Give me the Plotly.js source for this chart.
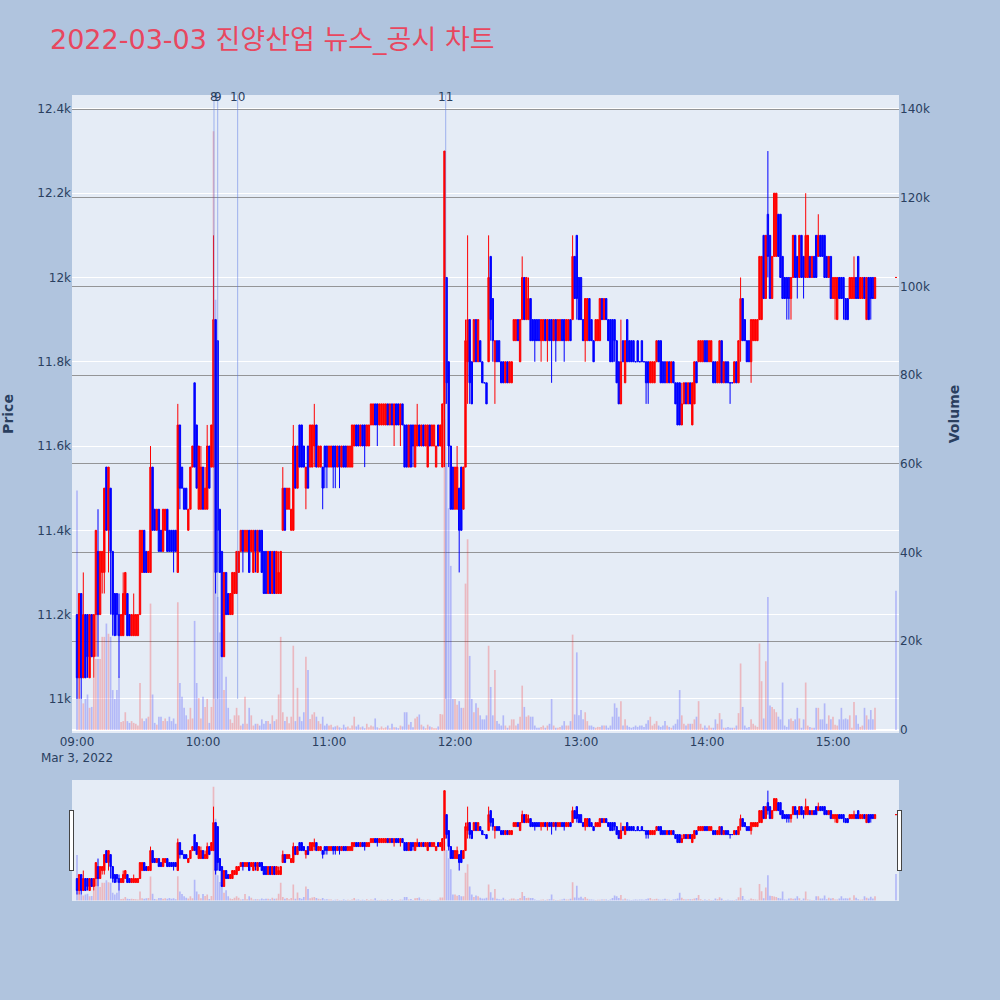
<!DOCTYPE html>
<html><head><meta charset="utf-8">
<script src="https://cdn.plot.ly/plotly-3.0.1.min.js"></script>
<style>html,body{margin:0;padding:0;background:#b0c4de}</style>
</head><body><div id="chart" style="width:1000px;height:1000px"></div>
<script>
// one-minute bars 09:00 .. 15:20, then the 15:30 closing auction bar
const openP = [
11200,11050,11250,11050,11200,11200,11050,11200,11100,11200,
11350,11200,11300,11300,11550,11400,11500,11350,11250,11250,
11200,11150,11150,11200,11250,11200,11150,11150,11150,11150,
11200,11300,11400,11350,11300,11300,11550,11450,11400,11450,
11400,11350,11400,11450,11400,11400,11400,11400,11300,11650,
11550,11500,11500,11400,11450,11550,11750,11650,11450,11450,
11550,11450,11450,11600,11550,11550,11900,11850,11450,11350,
11100,11300,11250,11200,11200,11250,11250,11300,11350,11400,
11350,11350,11400,11350,11300,11400,11300,11400,11400,11350,
11350,11250,11350,11250,11350,11250,11250,11250,11400,11500,
11450,11450,11400,11400,11600,11500,11650,11650,11600,11500,
11600,11550,11550,11600,11650,11550,11550,11550,11600,11600,
11550,11550,11600,11600,11550,11600,11550,11600,11600,11550,
11550,11550,11600,11650,11650,11600,11650,11650,11600,11600,
11650,11650,11700,11700,11650,11650,11650,11650,11700,11650,
11700,11650,11700,11700,11650,11700,11650,11650,11550,11650,
11650,11550,11600,11650,11600,11650,11600,11550,11650,11600,
11600,11550,11650,11600,11550,11700,12000,11800,11600,11550,
11450,11450,11500,11550,11450,11550,11800,11900,11800,11800,
11900,11800,11850,11800,11750,11750,11800,12050,11950,11800,
11850,11850,11800,11800,11750,11800,11750,11750,11850,11850,
11900,11800,11900,12000,11900,11900,11950,11900,11900,11900,
11900,11850,11850,11900,11850,11900,11900,11850,11900,11850,
11850,11900,11900,11850,11850,11900,11900,12050,12100,12000,
12000,11900,11850,11850,11950,11900,11850,11850,11850,11850,
11950,11900,11950,11900,11900,11900,11900,11850,11800,11700,
11850,11750,11900,11850,11850,11850,11800,11850,11800,11850,
11800,11800,11800,11750,11750,11750,11800,11850,11850,11800,
11800,11750,11800,11750,11800,11750,11750,11750,11650,11700,
11750,11700,11750,11650,11700,11800,11800,11800,11800,11850,
11850,11800,11800,11800,11800,11750,11750,11850,11750,11800,
11800,11750,11750,11750,11800,11750,11850,11950,11900,11850,
11850,11800,11850,11850,11850,11900,11900,12100,11950,12150,
12100,11950,12050,12050,12150,12150,12050,12000,12000,12000,
11950,12000,12100,12050,12000,12100,12050,12000,12000,12050,
12000,12050,12100,12050,12100,12100,12100,12050,12000,12050,
11950,11950,11900,12000,12000,12000,11950,11950,11950,11950,
11950,12000,12050,11950,11950,12000,11900,12000,12000,12000,
11950,
12000];
const highP = [
11200,11250,11250,11300,11200,11200,11200,11200,11200,11400,
11450,11350,11350,11500,11550,11550,11500,11350,11250,11250,
11250,11200,11300,11300,11250,11200,11200,11250,11200,11200,
11400,11400,11400,11350,11350,11600,11550,11450,11450,11450,
11400,11450,11450,11450,11400,11400,11400,11400,11700,11650,
11550,11500,11500,11450,11550,11600,11750,11650,11600,11600,
11550,11550,11650,11600,11650,12100,11900,11850,11450,11350,
11300,11300,11250,11250,11300,11300,11350,11350,11400,11400,
11400,11400,11400,11400,11400,11400,11400,11400,11400,11350,
11350,11350,11350,11350,11350,11350,11350,11350,11550,11500,
11500,11500,11450,11650,11600,11600,11650,11650,11600,11550,
11600,11650,11650,11700,11650,11600,11600,11550,11600,11600,
11600,11600,11600,11600,11600,11600,11600,11600,11600,11600,
11600,11650,11650,11650,11650,11650,11650,11650,11650,11650,
11700,11700,11700,11700,11700,11700,11700,11700,11700,11700,
11700,11700,11700,11700,11700,11700,11650,11650,11650,11650,
11650,11650,11700,11650,11650,11650,11650,11650,11650,11650,
11650,11600,11650,11650,11700,12300,12000,11800,11600,11550,
11550,11600,11500,11550,11550,11900,12100,11900,11800,11900,
11900,11900,11850,11800,11750,11750,12100,12050,11950,11850,
11850,11850,11800,11800,11800,11800,11800,11800,11900,11900,
11900,11900,12050,12000,12000,12000,11950,11900,11900,11900,
11900,11900,11900,11900,11900,11900,11900,11900,11900,11900,
11900,11900,11900,11900,11900,11900,12100,12050,12100,12000,
12000,11900,11950,11950,11950,11900,11850,11900,11900,11950,
11950,11950,11950,11900,11900,11900,11900,11850,11800,11900,
11850,11850,11900,11850,11850,11850,11800,11850,11800,11850,
11800,11800,11800,11800,11800,11800,11850,11850,11850,11800,
11800,11800,11800,11800,11800,11750,11750,11750,11750,11750,
11750,11750,11750,11750,11800,11800,11850,11850,11850,11850,
11850,11850,11850,11800,11800,11800,11850,11850,11800,11800,
11800,11750,11750,11800,11800,11850,12000,11950,11900,11850,
11850,11900,11900,11900,11900,12050,12050,12100,12100,12300,
12100,12050,12200,12200,12150,12150,12050,12000,12000,12000,
12000,12100,12100,12050,12100,12100,12050,12200,12100,12050,
12050,12050,12100,12150,12100,12100,12100,12050,12050,12050,
12000,12000,12000,12000,12000,12000,11950,11950,12000,12000,
12050,12000,12050,12000,12000,12000,12000,12000,12000,12000,
12000,
12000];
const lowP = [
11000,11000,11000,11050,11050,11050,11050,11100,11050,11100,
11100,11200,11250,11250,11400,11300,11200,11150,11150,11150,
11050,11150,11150,11200,11150,11150,11150,11150,11150,11150,
11200,11300,11300,11300,11300,11300,11400,11400,11400,11350,
11350,11350,11400,11350,11350,11350,11300,11350,11300,11450,
11500,11450,11450,11400,11450,11550,11550,11500,11450,11450,
11450,11450,11450,11500,11550,11550,11250,11300,11300,11100,
11100,11200,11200,11200,11200,11250,11250,11300,11350,11300,
11350,11350,11300,11350,11300,11300,11300,11350,11300,11250,
11250,11250,11250,11250,11250,11250,11250,11250,11400,11400,
11450,11450,11400,11400,11500,11500,11550,11550,11550,11450,
11500,11550,11550,11550,11550,11550,11550,11450,11500,11500,
11550,11550,11500,11500,11550,11500,11550,11550,11550,11550,
11550,11550,11600,11600,11600,11600,11600,11550,11600,11600,
11650,11650,11650,11600,11650,11650,11650,11650,11650,11650,
11650,11600,11650,11650,11600,11650,11550,11550,11550,11550,
11550,11550,11600,11600,11600,11600,11600,11550,11600,11600,
11600,11550,11600,11600,11550,11550,11700,11550,11450,11450,
11450,11450,11300,11400,11450,11550,11700,11700,11700,11800,
11800,11800,11800,11750,11750,11700,11800,11850,11800,11700,
11800,11800,11750,11750,11750,11750,11750,11750,11850,11850,
11850,11800,11900,11900,11900,11900,11850,11850,11800,11850,
11850,11800,11850,11850,11800,11850,11750,11850,11800,11850,
11850,11850,11800,11850,11850,11850,11900,11950,11900,11900,
11900,11850,11800,11850,11850,11850,11800,11850,11850,11850,
11900,11900,11900,11850,11800,11800,11800,11750,11700,11700,
11800,11750,11800,11800,11800,11800,11800,11800,11800,11800,
11800,11700,11700,11750,11750,11750,11800,11800,11750,11750,
11750,11750,11750,11750,11750,11700,11650,11650,11650,11700,
11700,11700,11700,11650,11700,11750,11800,11800,11800,11800,
11800,11800,11800,11750,11750,11750,11750,11750,11750,11750,
11750,11700,11750,11750,11750,11750,11800,11850,11850,11800,
11800,11750,11850,11850,11850,11900,11900,11950,11950,12000,
11950,11950,12050,12050,12050,12000,11950,11950,11900,11900,
11900,12000,12000,11950,12000,12000,11950,12000,12000,12000,
12000,12000,12000,12050,12050,12050,12000,12000,12000,11950,
11950,11900,11900,11950,11950,11900,11900,11900,11950,11950,
11950,11950,11950,11950,11950,11950,11900,11900,11900,11950,
11950,
12000];
const closeP = [
11050,11250,11050,11200,11050,11100,11200,11100,11200,11400,
11200,11350,11350,11500,11400,11550,11350,11200,11150,11200,
11150,11200,11250,11300,11150,11150,11200,11200,11200,11200,
11400,11400,11300,11300,11350,11550,11400,11400,11450,11350,
11350,11450,11450,11350,11350,11350,11350,11350,11650,11500,
11500,11450,11450,11450,11550,11600,11550,11500,11600,11550,
11450,11500,11600,11500,11650,11900,11300,11400,11300,11100,
11300,11200,11200,11250,11300,11300,11350,11350,11400,11350,
11400,11400,11300,11400,11400,11350,11400,11350,11300,11250,
11250,11350,11250,11350,11250,11350,11300,11350,11500,11400,
11500,11500,11450,11600,11500,11600,11550,11550,11550,11550,
11500,11650,11650,11650,11550,11600,11600,11500,11550,11550,
11600,11600,11550,11550,11600,11550,11600,11550,11550,11600,
11600,11650,11650,11600,11600,11650,11600,11600,11650,11650,
11700,11700,11650,11650,11700,11700,11700,11700,11650,11700,
11650,11700,11650,11650,11700,11650,11550,11550,11650,11550,
11600,11650,11650,11600,11650,11600,11650,11650,11600,11650,
11650,11600,11600,11650,11700,12300,11750,11600,11450,11450,
11550,11550,11400,11400,11550,11850,11900,11750,11700,11900,
11800,11900,11800,11750,11750,11700,12000,11900,11850,11850,
11800,11800,11750,11750,11800,11750,11800,11800,11900,11900,
11850,11900,12000,11900,12000,11950,11850,11850,11850,11850,
11850,11900,11900,11850,11900,11850,11850,11900,11850,11900,
11900,11850,11850,11900,11900,11850,12050,11950,11950,11900,
11900,11850,11950,11950,11850,11850,11800,11900,11900,11950,
11900,11950,11900,11850,11800,11800,11850,11750,11700,11800,
11800,11850,11800,11800,11800,11800,11800,11800,11800,11800,
11800,11750,11750,11800,11800,11800,11850,11800,11750,11750,
11750,11800,11750,11800,11750,11700,11650,11650,11700,11750,
11700,11750,11700,11750,11800,11750,11850,11850,11850,11800,
11800,11850,11850,11750,11750,11800,11850,11750,11800,11750,
11750,11750,11750,11800,11750,11850,11950,11850,11850,11800,
11800,11900,11900,11900,11900,12050,12050,11950,12100,12050,
11950,12050,12200,12200,12050,12000,11950,11950,11950,11950,
12000,12100,12000,12000,12100,12000,12000,12100,12100,12000,
12050,12000,12000,12100,12050,12050,12000,12000,12050,11950,
12000,12000,12000,11950,11950,11950,11900,11900,12000,12000,
12000,11950,11950,12000,12000,11950,12000,11900,11950,11950,
12000,
12000];
const volume = [
54000,7000,7000,6000,7000,8000,5000,5200,11700,16000,
16000,16000,21000,21000,24000,21700,21000,9000,7000,9000,
12000,1800,2000,4000,2000,1600,2000,1600,1400,1000,
10600,2600,2000,2600,3000,28500,8000,1600,1200,3000,
3000,2000,2600,2000,3000,2000,2600,1400,28800,10600,
7500,5000,3300,2400,5000,2600,24600,10600,7200,2600,
7500,5200,7000,1600,5200,135000,97000,30000,22000,18000,
9000,12000,5000,2400,1600,3300,5000,3300,1000,1400,
7500,1400,5000,3300,1000,1400,1400,1000,2400,1400,
2000,2000,1400,3300,2000,2400,8000,21000,4000,2000,
3000,1500,3000,19000,2000,9500,3000,2000,4000,16500,
13500,2500,3500,4000,3000,2000,1400,3000,1000,1400,
1000,1200,600,800,1000,600,400,1200,600,800,
400,1000,3000,800,1200,600,800,400,1400,600,
1000,800,2600,600,400,800,400,600,1000,400,
1400,600,600,400,1000,800,4000,4000,1200,1800,
600,2600,3000,3500,1200,800,400,1200,800,600,
400,400,800,3600,3500,70000,60000,50000,37000,7000,
7000,5700,6500,5000,5000,33000,43000,16700,7000,4000,
6000,5000,3300,2400,2400,3300,19000,9700,3300,13500,
2000,1400,1000,3300,1000,500,1000,2400,2400,1000,
1400,3000,10000,5200,3000,3300,3000,3000,1000,500,
500,700,1000,500,1000,1400,7000,1000,500,500,
700,1000,2000,1000,1000,2000,21500,3500,17500,3300,
4500,2400,4000,2000,1000,1000,700,500,700,700,
1000,1000,1000,500,1000,3000,6000,5000,3000,6500,
1000,2400,1000,700,500,700,1000,700,1000,1000,
700,1400,2200,3000,1000,1400,2000,1000,700,1000,
2000,1000,700,500,1000,1400,2400,9000,3300,1400,
1000,1400,1400,1400,2400,3000,6500,1400,500,1000,
500,1000,500,500,2400,1400,3800,2400,500,500,
700,500,500,500,1000,3800,15000,5200,1000,500,
700,2400,1400,1000,700,19500,11000,2600,15500,30000,
5500,5200,4700,4000,3000,2400,10700,1000,700,2400,
2600,2000,2400,5000,2600,500,2400,10700,1000,700,
500,500,5000,5000,2400,2400,6000,1400,3300,2400,
3000,1200,1000,2400,5000,2400,2600,2400,3300,500,
6300,3300,1400,700,1000,5000,3300,2400,4500,2400,
5000,
31400];
const sessionDate = '2022-03-03';
const sessionStartMinute = 9 * 60;          // 09:00
const closingAuctionTime = '2022-03-03 15:30';
const newsTimes  = ['2022-03-03 10:05:14', '2022-03-03 10:07:00', '2022-03-03 10:16:30', '2022-03-03 11:55:34'];
const newsLabels = ['8', '9', '10', '11'];
const newsLineBase = 11000;
const chartTitle = '2022-03-03 진양산업 뉴스_공시 차트';

// time stamps of the bars
const times = [];
for (let i = 0; i < openP.length - 1; i++) {
  const t = sessionStartMinute + i;
  times.push(sessionDate + ' ' + String(Math.floor(t / 60)).padStart(2, '0') + ':' + String(t % 60).padStart(2, '0'));
}
times.push(closingAuctionTime);

const volColors = closeP.map((c, i) => c > openP[i] ? 'rgba(255,0,0,0.22)' : 'rgba(0,0,255,0.22)');

const xRange = ['2022-03-03 08:57:37', '2022-03-03 15:31:26'];
const priceRange = [10919, 12433];

const traces = [
  {
    type: 'candlestick', x: times, open: openP, high: highP, low: lowP, close: closeP,
    xaxis: 'x', yaxis: 'y', name: 'Price',
    increasing: {line: {color: '#ff0000', width: 1}, fillcolor: '#ff0000'},
    decreasing: {line: {color: '#0000ff', width: 1}, fillcolor: '#0000ff'},
    showlegend: false
  },
  {
    type: 'bar', x: times, y: volume, xaxis: 'x', yaxis: 'y2', name: 'Volume',
    marker: {color: volColors, line: {width: 0}}, showlegend: false
  }
];

const shapes = newsTimes.map(t => ({
  type: 'line', xref: 'x', yref: 'y', x0: t, x1: t, y0: newsLineBase, y1: priceRange[1] + 50,
  line: {color: 'rgba(90,120,230,0.5)', width: 1}, layer: 'above'
}));
const annotations = newsTimes.map((t, i) => ({
  x: t, xref: 'x', y: 1, yref: 'paper', yanchor: 'middle', yshift: -2, text: newsLabels[i],
  showarrow: false, font: {size: 12, color: '#2a3f5f'}
}));

const layout = {
  width: 1000, height: 1000,
  paper_bgcolor: '#B0C4DE', plot_bgcolor: '#E5ECF6',
  font: {family: '"DejaVu Sans", "Noto Sans CJK KR", sans-serif', color: '#2a3f5f', size: 12},
  title: {text: chartTitle, x: 0.05, xanchor: 'left', y: 0.96, yanchor: 'middle',
          font: {family: '"DejaVu Sans", "Noto Sans CJK KR", sans-serif', size: 27, color: '#E8475F'}},
  margin: {l: 72, r: 101, t: 95, b: 100},
  showlegend: false,
  bargap: 0.2,
  boxgap: 0.05,
  xaxis: {
    type: 'date', range: xRange, showgrid: false, zeroline: false, dtick: 3600000,
    rangeslider: {visible: true, range: xRange, bgcolor: '#E5ECF6', thickness: 0.15, borderwidth: 0}
  },
  yaxis: {
    title: {text: '<b>Price</b>', standoff: 20}, range: priceRange, dtick: 200, gridcolor: 'white', gridwidth: 1,
    zeroline: false
  },
  yaxis2: {
    title: {text: '<b>Volume</b>', standoff: 20}, overlaying: 'y', side: 'right', range: [-680, 143170], dtick: 20000,
    gridcolor: 'rgba(128,128,128,0.8)', zerolinecolor: 'white', zerolinewidth: 2
  },
  shapes: shapes,
  annotations: annotations
};

Plotly.newPlot('chart', traces, layout, {displayModeBar: false});
</script>
</body></html>
